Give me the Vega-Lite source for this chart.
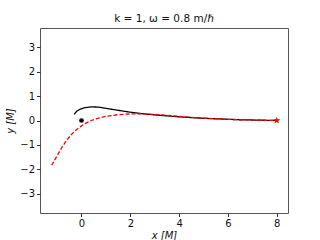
{
  "$schema": "https://vega.github.io/schema/vega-lite/v6.json",
  "autosize": "none",
  "width": 248,
  "height": 185,
  "padding": {"left": 40, "top": 28, "right": 32, "bottom": 27},
  "background": "white",
  "config": {
    "font": "DejaVu Sans",
    "view": {"stroke": "#555", "strokeWidth": 1},
    "axis": {"grid": false, "domain": false, "tickColor": "#333", "tickSize": 3.5, "labelFontSize": 10, "labelColor": "#111", "titleFontSize": 10, "titleFontWeight": "normal", "titleColor": "#111", "labelPadding": 2}
  },
  "title": {"text": "k = 1, ω = 0.8 m/ℏ", "fontSize": 10.5, "fontWeight": "normal", "font": "DejaVu Sans", "offset": 4, "color": "#111"},
  "datasets": {
    "curves": [
      {"series": "a", "i": 0, "x": -0.3, "y": 0.25},
      {"series": "a", "i": 1, "x": -0.2, "y": 0.38},
      {"series": "a", "i": 2, "x": -0.05, "y": 0.47},
      {"series": "a", "i": 3, "x": 0.15, "y": 0.53},
      {"series": "a", "i": 4, "x": 0.4, "y": 0.56},
      {"series": "a", "i": 5, "x": 0.7, "y": 0.55},
      {"series": "a", "i": 6, "x": 1.0, "y": 0.5},
      {"series": "a", "i": 7, "x": 1.5, "y": 0.42},
      {"series": "a", "i": 8, "x": 2.0, "y": 0.34},
      {"series": "a", "i": 9, "x": 2.5, "y": 0.28},
      {"series": "a", "i": 10, "x": 3.0, "y": 0.23},
      {"series": "a", "i": 11, "x": 3.5, "y": 0.19},
      {"series": "a", "i": 12, "x": 4.0, "y": 0.15},
      {"series": "a", "i": 13, "x": 4.5, "y": 0.12},
      {"series": "a", "i": 14, "x": 5.0, "y": 0.09},
      {"series": "a", "i": 15, "x": 5.5, "y": 0.07},
      {"series": "a", "i": 16, "x": 6.0, "y": 0.05},
      {"series": "a", "i": 17, "x": 6.5, "y": 0.03},
      {"series": "a", "i": 18, "x": 7.0, "y": 0.02},
      {"series": "a", "i": 19, "x": 7.5, "y": 0.01},
      {"series": "a", "i": 20, "x": 8.0, "y": 0.0},
      {"series": "b", "i": 0, "x": -1.22, "y": -1.84},
      {"series": "b", "i": 1, "x": -1.0, "y": -1.45},
      {"series": "b", "i": 2, "x": -0.8, "y": -1.1},
      {"series": "b", "i": 3, "x": -0.6, "y": -0.8},
      {"series": "b", "i": 4, "x": -0.4, "y": -0.56},
      {"series": "b", "i": 5, "x": -0.2, "y": -0.37},
      {"series": "b", "i": 6, "x": 0.0, "y": -0.22},
      {"series": "b", "i": 7, "x": 0.2, "y": -0.1},
      {"series": "b", "i": 8, "x": 0.4, "y": 0.0},
      {"series": "b", "i": 9, "x": 0.7, "y": 0.1},
      {"series": "b", "i": 10, "x": 1.0, "y": 0.17},
      {"series": "b", "i": 11, "x": 1.5, "y": 0.24},
      {"series": "b", "i": 12, "x": 2.0, "y": 0.27},
      {"series": "b", "i": 13, "x": 2.5, "y": 0.27},
      {"series": "b", "i": 14, "x": 3.0, "y": 0.25},
      {"series": "b", "i": 15, "x": 3.5, "y": 0.21},
      {"series": "b", "i": 16, "x": 4.0, "y": 0.17},
      {"series": "b", "i": 17, "x": 4.5, "y": 0.13},
      {"series": "b", "i": 18, "x": 5.0, "y": 0.1},
      {"series": "b", "i": 19, "x": 5.5, "y": 0.075},
      {"series": "b", "i": 20, "x": 6.0, "y": 0.05},
      {"series": "b", "i": 21, "x": 6.5, "y": 0.03},
      {"series": "b", "i": 22, "x": 7.0, "y": 0.02},
      {"series": "b", "i": 23, "x": 7.5, "y": 0.01},
      {"series": "b", "i": 24, "x": 8.0, "y": 0.0}
    ],
    "dot": [{"x": 0, "y": 0}],
    "star": [{"x": 8, "y": 0}]
  },
  "layer": [
    {
      "data": {"name": "curves"},
      "mark": {"type": "line", "strokeWidth": 1.3, "clip": true},
      "encoding": {
        "x": {"field": "x", "type": "quantitative", "scale": {"domain": [-1.7, 8.46], "nice": false, "zero": false}, "axis": {"values": [0, 2, 4, 6, 8], "tickCount": 10, "title": "x [M]", "titleFontStyle": "italic", "titlePadding": 2, "labelOverlap": false}},
        "y": {"field": "y", "type": "quantitative", "scale": {"domain": [-3.8, 3.8], "nice": false, "zero": false}, "axis": {"values": [-3, -2, -1, 0, 1, 2, 3], "tickCount": 10, "title": "y [M]", "titleFontStyle": "italic", "titlePadding": 4, "labelOverlap": false, "labelExpr": "replace(datum.label, '-', '−')"}},
        "order": {"field": "i", "type": "quantitative"},
        "color": {"field": "series", "type": "nominal", "scale": {"domain": ["a", "b"], "range": ["black", "red"]}, "legend": null},
        "strokeDash": {"field": "series", "type": "nominal", "scale": {"domain": ["a", "b"], "range": [[1, 0], [4, 2]]}, "legend": null}
      }
    },
    {
      "data": {"name": "dot"},
      "mark": {"type": "point", "filled": true, "color": "black", "size": 22, "opacity": 1},
      "encoding": {"x": {"field": "x", "type": "quantitative"}, "y": {"field": "y", "type": "quantitative"}}
    },
    {
      "data": {"name": "star"},
      "mark": {"type": "point", "filled": true, "color": "red", "size": 60, "opacity": 1, "shape": "M0,-1L0.235,-0.324L0.951,-0.309L0.38,0.124L0.588,0.809L0,0.4L-0.588,0.809L-0.38,0.124L-0.951,-0.309L-0.235,-0.324Z"},
      "encoding": {"x": {"field": "x", "type": "quantitative"}, "y": {"field": "y", "type": "quantitative"}}
    }
  ]
}
